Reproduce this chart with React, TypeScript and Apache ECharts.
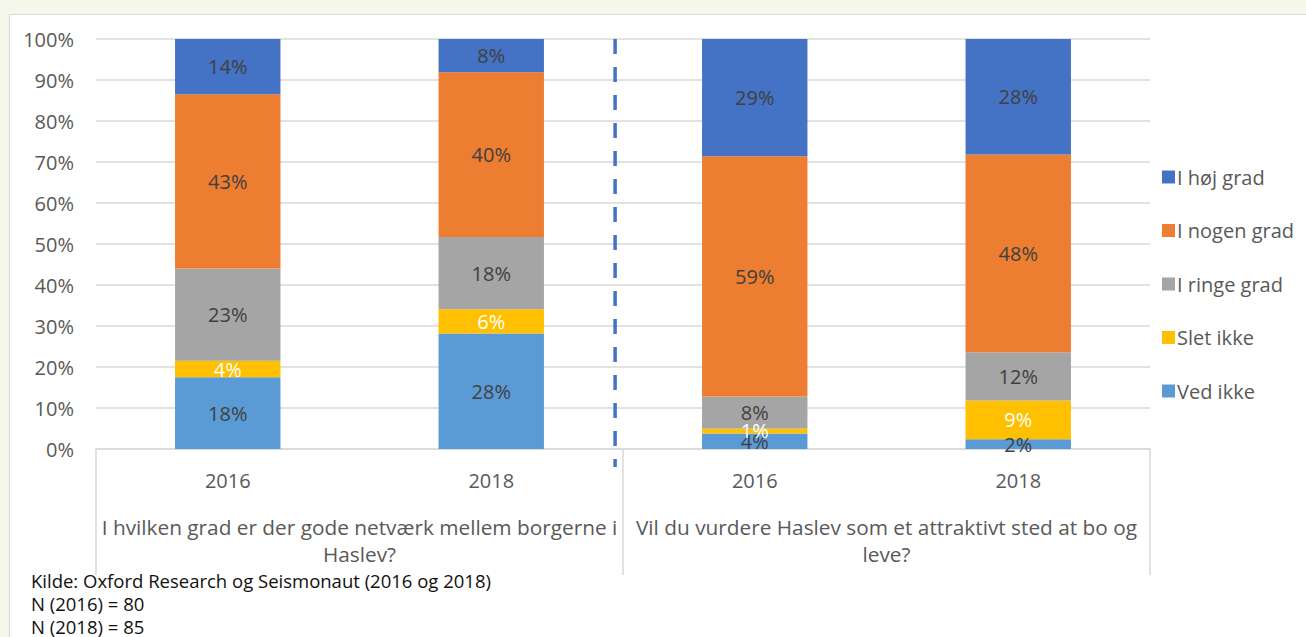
import React, { useEffect, useRef } from "react";
import * as echarts from "echarts";

const years = ["2016", "2018", "2016", "2018"];
const questions = [
  "I hvilken grad er der gode netværk mellem borgerne i\nHaslev?",
  "Vil du vurdere Haslev som et attraktivt sted at bo og\nleve?",
];
const seriesNames = ["Ved ikke", "Slet ikke", "I ringe grad", "I nogen grad", "I høj grad"];
const vedIkke = [17.5, 28.2, 3.8, 2.4];
const sletIkke = [4.0, 5.9, 1.2, 9.4];
const iRingeGrad = [22.5, 17.6, 7.8, 11.8];
const iNogenGrad = [42.5, 40.2, 58.6, 48.2];
const iHojGrad = [13.5, 8.1, 28.6, 28.2];
const colors = ["#5b9bd5", "#ffc000", "#a5a5a5", "#ed7d31", "#4472c4"];
const labelColors = ["#404040", "#ffffff", "#404040", "#404040", "#404040"];
const yTicks = [0, 10, 20, 30, 40, 50, 60, 70, 80, 90, 100];
const notes = [
  "Kilde: Oxford Research og Seismonaut (2016 og 2018)",
  "N (2016) = 80",
  "N (2018) = 85",
];

const FONT = "'Open Sans', sans-serif";

export default function App() {
  const ref = useRef<HTMLDivElement>(null);
  useEffect(() => {
    document.body.style.margin = "0";
    if (!ref.current) return;
    const chart = echarts.init(ref.current, undefined, { renderer: "svg" });
    const values = [vedIkke, sletIkke, iRingeGrad, iNogenGrad, iHojGrad];
    const option: any = {
      animation: false,
      textStyle: { fontFamily: FONT },
      grid: { left: 96, right: 156, top: 39, bottom: 188 },
      legend: {
        orient: "vertical",
        left: 1157,
        top: 161,
        itemWidth: 13,
        itemHeight: 13,
        itemGap: 31.5,
        icon: "rect",
        data: ["I høj grad", "I nogen grad", "I ringe grad", "Slet ikke", "Ved ikke"],
        textStyle: { fontSize: 20, color: "#595959", fontFamily: FONT, lineHeight: 22, padding: [0, 0, 0, -3] },
      },
      xAxis: [
        {
          type: "category",
          data: years,
          axisLine: { lineStyle: { color: "#d9d9d9", width: 1.5 } },
          axisTick: { show: false },
          axisLabel: { fontSize: 20, color: "#595959", margin: 20, lineHeight: 22, fontFamily: FONT },
        },
        {
          type: "category",
          data: questions,
          position: "bottom",
          axisLine: { show: false },
          axisTick: { show: true, length: 126, lineStyle: { color: "#d9d9d9", width: 1.5 } },
          axisLabel: { fontSize: 20.8, color: "#595959", margin: 64, lineHeight: 27, interval: 0, fontFamily: FONT, align: "center" },
        },
      ],
      yAxis: {
        type: "value",
        min: 0,
        max: 100,
        interval: 10,
        axisLine: { show: false },
        axisTick: { show: false },
        splitLine: { lineStyle: { color: "#d9d9d9", width: 1.5 } },
        axisLabel: {
          fontSize: 20,
          color: "#595959",
          margin: 22,
          fontFamily: FONT,
          formatter: (v: number) => (yTicks.includes(v) ? v + "%" : ""),
        },
      },
      series: seriesNames.map((name, i) => ({
        name,
        type: "bar",
        stack: "total",
        barWidth: "40%",
        xAxisIndex: 0,
        itemStyle: { color: colors[i] },
        data: values[i],
        label: {
          show: true,
          position: "inside",
          fontSize: 20,
          fontFamily: FONT,
          color: labelColors[i],
          formatter: (p: any) => Math.round(p.value) + "%",
        },
      })),
    };
    chart.setOption(option);
    const p1 = chart.convertToPixel({ xAxisIndex: 0 }, 1) as number;
    const p2 = chart.convertToPixel({ xAxisIndex: 0 }, 2) as number;
    const yTop = chart.convertToPixel({ yAxisIndex: 0 }, 100) as number;
    const yBot = chart.convertToPixel({ yAxisIndex: 0 }, 0) as number;
    const dx = p1 + (p2 - p1) * 0.47;
    chart.setOption({
      graphic: [
        {
          type: "line",
          shape: { x1: dx, y1: yTop, x2: dx, y2: yBot + 18 },
          style: { stroke: "#4472c4", lineWidth: 3.5, lineDash: [15, 13] },
          z: 10,
        },
        ...notes.map((t, i) => ({
          type: "text",
          left: 31,
          top: 571 + i * 23,
          style: { text: t, fontSize: 18.5, fill: "#111111", fontFamily: FONT },
        })),
      ],
    });
    return () => chart.dispose();
  }, []);
  return (
    <div style={{ position: "relative", width: 1306, height: 637, background: "#f4f7e9", overflow: "hidden" }}>
      <div
        style={{
          position: "absolute",
          left: 9,
          top: 14,
          width: 1310,
          height: 640,
          background: "#ffffff",
          border: "1.5px solid #d9d9d9",
          boxSizing: "border-box",
        }}
      />
      <div ref={ref} style={{ position: "absolute", left: 0, top: 0, width: 1306, height: 637 }} />
    </div>
  );
}
